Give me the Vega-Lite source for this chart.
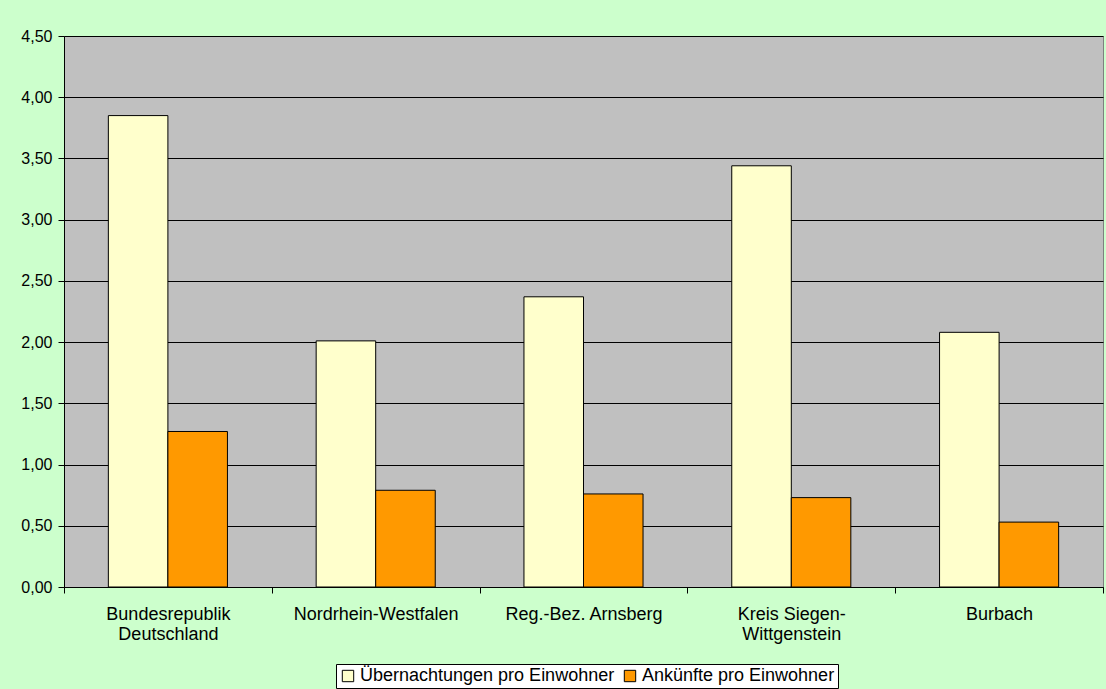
{
  "$schema": "https://vega.github.io/schema/vega-lite/v6.json",
  "autosize": {"type": "none"},
  "width": 1039,
  "height": 551,
  "padding": {"left": 64, "top": 36, "right": 3, "bottom": 102},
  "background": "#CCFFCC",
  "data": {
    "values": [
      {"region": "Bundesrepublik Deutschland", "serie": "Übernachtungen pro Einwohner", "wert": 3.85},
      {"region": "Bundesrepublik Deutschland", "serie": "Ankünfte pro Einwohner", "wert": 1.27},
      {"region": "Nordrhein-Westfalen", "serie": "Übernachtungen pro Einwohner", "wert": 2.01},
      {"region": "Nordrhein-Westfalen", "serie": "Ankünfte pro Einwohner", "wert": 0.79},
      {"region": "Reg.-Bez. Arnsberg", "serie": "Übernachtungen pro Einwohner", "wert": 2.37},
      {"region": "Reg.-Bez. Arnsberg", "serie": "Ankünfte pro Einwohner", "wert": 0.76},
      {"region": "Kreis Siegen-Wittgenstein", "serie": "Übernachtungen pro Einwohner", "wert": 3.44},
      {"region": "Kreis Siegen-Wittgenstein", "serie": "Ankünfte pro Einwohner", "wert": 0.73},
      {"region": "Burbach", "serie": "Übernachtungen pro Einwohner", "wert": 2.08},
      {"region": "Burbach", "serie": "Ankünfte pro Einwohner", "wert": 0.53}
    ]
  },
  "mark": {"type": "bar", "stroke": "#000000", "strokeWidth": 1},
  "encoding": {
    "x": {
      "field": "region",
      "type": "nominal",
      "sort": null,
      "scale": {"paddingInner": 0, "paddingOuter": 0},
      "axis": {
        "title": null,
        "labelAngle": 0,
        "tickBand": "extent",
        "tickSize": 6,
        "tickColor": "#000000",
        "domainColor": "#000000",
        "labelPadding": 12,
        "labelFontSize": 18,
        "labelLineHeight": 20,
        "labelLimit": 0,
        "labelColor": "#000000",
        "labelExpr": "datum.value == 'Bundesrepublik Deutschland' ? ['Bundesrepublik', 'Deutschland'] : datum.value == 'Kreis Siegen-Wittgenstein' ? ['Kreis Siegen-', 'Wittgenstein'] : datum.value"
      }
    },
    "xOffset": {
      "field": "serie",
      "type": "nominal",
      "sort": ["Übernachtungen pro Einwohner", "Ankünfte pro Einwohner"],
      "scale": {"paddingInner": 0, "paddingOuter": 0.745}
    },
    "y": {
      "field": "wert",
      "type": "quantitative",
      "scale": {"domain": [0, 4.5], "nice": false},
      "axis": {
        "title": null,
        "values": [0, 0.5, 1, 1.5, 2, 2.5, 3, 3.5, 4, 4.5],
        "labelExpr": "replace(format(datum.value, '.2f'), '.', ',')",
        "grid": true,
        "gridColor": "#000000",
        "gridOpacity": 1,
        "gridWidth": 1,
        "tickSize": 6,
        "tickColor": "#000000",
        "domainColor": "#000000",
        "labelPadding": 6,
        "labelFontSize": 16,
        "labelColor": "#000000"
      }
    },
    "fill": {
      "field": "serie",
      "type": "nominal",
      "scale": {
        "domain": ["Übernachtungen pro Einwohner", "Ankünfte pro Einwohner"],
        "range": ["#FFFFCC", "#FF9900"]
      },
      "legend": {
        "title": null,
        "orient": "none",
        "legendX": 272,
        "legendY": 628,
        "direction": "horizontal",
        "symbolType": "square",
        "symbolSize": 130,
        "symbolStrokeColor": "#000000",
        "symbolStrokeWidth": 1,
        "symbolOpacity": 1,
        "labelFontSize": 18,
        "labelLimit": 0,
        "labelColor": "#000000",
        "labelOffset": 3,
        "columnPadding": 6,
        "padding": 3,
        "strokeColor": "#000000",
        "fillColor": "#FFFFFF"
      }
    }
  },
  "config": {
    "font": "Liberation Sans",
    "view": {"fill": "#C0C0C0", "stroke": "#808080", "strokeWidth": 1},
    "axis": {"labelFont": "Liberation Sans"},
    "legend": {"labelFont": "Liberation Sans"}
  }
}
